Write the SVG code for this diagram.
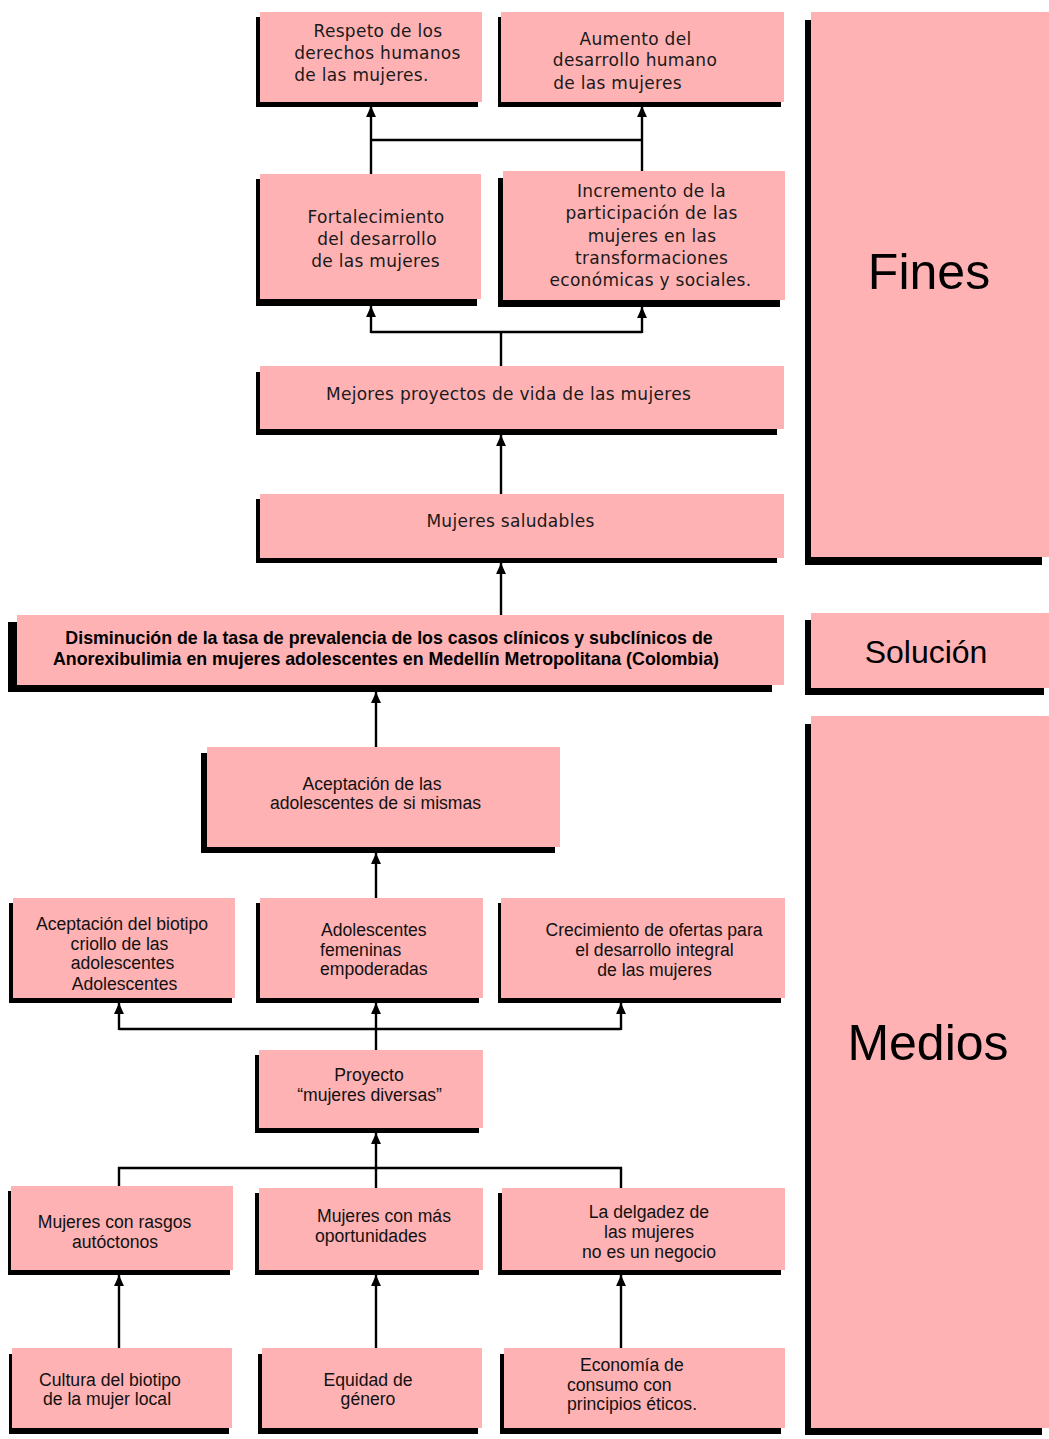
<svg xmlns="http://www.w3.org/2000/svg" width="1049" height="1439" viewBox="0 0 1049 1439">
<style>
.sh{fill:#000}
.bx{fill:#FFB2B4}
.t{font-family:"DejaVu Sans",Verdana,sans-serif;font-size:17px;letter-spacing:0.3px;fill:#1a1a1a;text-anchor:middle}
.a{font-family:"Liberation Sans",Arial,sans-serif;font-size:17.6px;fill:#111;text-anchor:middle}
.s{text-anchor:start}
.b{font-family:"Liberation Sans",Arial,sans-serif;font-size:17.8px;font-weight:bold;fill:#000;text-anchor:middle}
.big{font-family:"Liberation Sans",Arial,sans-serif;font-size:50px;fill:#000;text-anchor:middle}
.mid{font-family:"Liberation Sans",Arial,sans-serif;font-size:32px;fill:#000;text-anchor:middle}
.c{stroke:#000;stroke-width:2.4;fill:none}
.ar{marker-end:url(#ah)}
</style>
<defs>
<marker id="ah" markerUnits="userSpaceOnUse" markerWidth="11" markerHeight="11" viewBox="0 0 10 10" refX="10" refY="5" orient="auto">
<path d="M0,0.5 L10,5 L0,9.5 z" fill="#000"/>
</marker>
</defs>

<g id="panel-fines">
<rect class="sh" x="805" y="20" width="237" height="545"/>
<rect class="bx" x="811" y="12" width="238" height="545"/>
<text class="big" x="929" y="289">Fines</text>
</g>
<g id="panel-solucion">
<rect class="sh" x="805" y="620" width="239" height="75"/>
<rect class="bx" x="811" y="613" width="238" height="75"/>
<text class="mid" x="926" y="663">Solución</text>
</g>
<g id="panel-medios">
<rect class="sh" x="805" y="724" width="237" height="711"/>
<rect class="bx" x="811" y="716" width="238" height="712"/>
<text class="big" x="928" y="1060">Medios</text>
</g>

<g id="connectors">
<path class="c ar" d="M371,174 V106"/>
<path class="c ar" d="M642,171 V106"/>
<path class="c" d="M371,140 H642"/>
<path class="c" d="M501,366 V332 M371,332 H642"/>
<path class="c ar" d="M371,333 V306"/>
<path class="c ar" d="M642,333 V307"/>
<path class="c ar" d="M501,494 V435"/>
<path class="c ar" d="M501,615 V563"/>
<path class="c ar" d="M376,747 V692"/>
<path class="c ar" d="M376,898 V853"/>
<path class="c ar" d="M376,1050 V1003"/>
<path class="c" d="M119,1029 H621"/>
<path class="c ar" d="M119,1030 V1003"/>
<path class="c ar" d="M621,1030 V1003"/>
<path class="c ar" d="M376,1188 V1133"/>
<path class="c" d="M119,1188 V1168 H621 V1188"/>
<path class="c ar" d="M119,1348 V1275"/>
<path class="c ar" d="M376,1348 V1275"/>
<path class="c ar" d="M621,1348 V1275"/>
</g>

<g id="n-respeto">
<rect class="sh" x="256" y="17" width="222" height="90"/>
<rect class="bx" x="260" y="12" width="222" height="90"/>
<text class="t" x="378" y="37">Respeto de los</text>
<text class="t" x="377.5" y="59">derechos humanos</text>
<text class="t" x="361.5" y="81">de las mujeres.</text>
</g>
<g id="n-aumento">
<rect class="sh" x="498" y="17" width="283" height="90"/>
<rect class="bx" x="501" y="12" width="283" height="90"/>
<text class="t" x="635.5" y="45">Aumento del</text>
<text class="t" x="635" y="66">desarrollo humano</text>
<text class="t" x="617.5" y="89">de las mujeres</text>
</g>
<g id="n-fortalecimiento">
<rect class="sh" x="256" y="179" width="221" height="127"/>
<rect class="bx" x="260" y="174" width="221" height="125"/>
<text class="t" x="376" y="223">Fortalecimiento</text>
<text class="t" x="377" y="245">del desarrollo</text>
<text class="t" x="375.5" y="267">de las mujeres</text>
</g>
<g id="n-incremento">
<rect class="sh" x="498" y="178" width="282" height="129"/>
<rect class="bx" x="503" y="171" width="282" height="129"/>
<text class="t" x="651.5" y="197">Incremento de la</text>
<text class="t" x="651.5" y="219">participación de las</text>
<text class="t" x="652" y="242">mujeres en las</text>
<text class="t" x="651.5" y="264">transformaciones</text>
<text class="t" x="650.5" y="286">económicas y sociales.</text>
</g>
<g id="n-mejores">
<rect class="sh" x="256" y="372" width="521" height="63"/>
<rect class="bx" x="260" y="366" width="524" height="63"/>
<text class="t" x="508.5" y="400">Mejores proyectos de vida de las mujeres</text>
</g>
<g id="n-saludables">
<rect class="sh" x="256" y="499" width="521" height="64"/>
<rect class="bx" x="260" y="494" width="524" height="64"/>
<text class="t" x="510.5" y="527">Mujeres saludables</text>
</g>
<g id="n-solucion">
<rect class="sh" x="8" y="622" width="764" height="70"/>
<rect class="bx" x="17" y="615" width="767" height="70"/>
<text class="b" x="389" y="644">Disminución de la tasa de prevalencia de los casos clínicos y subclínicos de</text>
<text class="b" x="386" y="665">Anorexibulimia en mujeres adolescentes en Medellín Metropolitana (Colombia)</text>
</g>
<g id="n-aceptacion">
<rect class="sh" x="201" y="753" width="354" height="100"/>
<rect class="bx" x="207" y="747" width="353" height="100"/>
<text class="a" x="372" y="790">Aceptación de las</text>
<text class="a" x="375.5" y="809">adolescentes de si mismas</text>
</g>
<g id="n-biotipo">
<rect class="sh" x="9" y="903" width="223" height="100"/>
<rect class="bx" x="13" y="898" width="222" height="100"/>
<text class="a" x="122" y="930">Aceptación del biotipo</text>
<text class="a" x="119.5" y="950">criollo de las</text>
<text class="a" x="122.5" y="969">adolescentes</text>
<text class="a" x="124.5" y="990">Adolescentes</text>
</g>
<g id="n-empoderadas">
<rect class="sh" x="256" y="903" width="223" height="100"/>
<rect class="bx" x="260" y="898" width="223" height="100"/>
<text class="a s" x="321" y="936">Adolescentes</text>
<text class="a s" x="320" y="956">femeninas</text>
<text class="a s" x="320" y="975">empoderadas</text>
</g>
<g id="n-crecimiento">
<rect class="sh" x="498" y="903" width="283" height="100"/>
<rect class="bx" x="501" y="898" width="284" height="100"/>
<text class="a" x="654" y="936">Crecimiento de ofertas para</text>
<text class="a" x="654.5" y="956">el desarrollo integral</text>
<text class="a" x="654.5" y="976">de las mujeres</text>
</g>
<g id="n-proyecto">
<rect class="sh" x="255" y="1055" width="224" height="78"/>
<rect class="bx" x="259" y="1050" width="224" height="78"/>
<text class="a" x="369" y="1081">Proyecto</text>
<text class="a" x="369.5" y="1101">“mujeres diversas”</text>
</g>
<g id="n-rasgos">
<rect class="sh" x="8" y="1191" width="222" height="84"/>
<rect class="bx" x="11" y="1186" width="222" height="84"/>
<text class="a" x="114.5" y="1228">Mujeres con rasgos</text>
<text class="a" x="115" y="1248">autóctonos</text>
</g>
<g id="n-oportunidades">
<rect class="sh" x="255" y="1193" width="224" height="82"/>
<rect class="bx" x="259" y="1188" width="224" height="82"/>
<text class="a s" x="317" y="1222">Mujeres con más</text>
<text class="a s" x="315" y="1242">oportunidades</text>
</g>
<g id="n-delgadez">
<rect class="sh" x="498" y="1193" width="283" height="82"/>
<rect class="bx" x="502" y="1188" width="283" height="82"/>
<text class="a" x="649" y="1218">La delgadez de</text>
<text class="a" x="649" y="1238">las mujeres</text>
<text class="a" x="649" y="1258">no es un negocio</text>
</g>
<g id="n-cultura">
<rect class="sh" x="9" y="1354" width="220" height="80"/>
<rect class="bx" x="12" y="1348" width="220" height="80"/>
<text class="a" x="110" y="1386">Cultura del biotipo</text>
<text class="a" x="107" y="1405">de la mujer local</text>
</g>
<g id="n-equidad">
<rect class="sh" x="258" y="1354" width="220" height="80"/>
<rect class="bx" x="262" y="1348" width="220" height="80"/>
<text class="a" x="368" y="1386">Equidad de</text>
<text class="a" x="368" y="1405">género</text>
</g>
<g id="n-economia">
<rect class="sh" x="500" y="1354" width="281" height="80"/>
<rect class="bx" x="504" y="1348" width="281" height="80"/>
<text class="a s" x="580" y="1371">Economía de</text>
<text class="a s" x="567" y="1391">consumo con</text>
<text class="a s" x="567" y="1410">principios éticos.</text>
</g>
</svg>
